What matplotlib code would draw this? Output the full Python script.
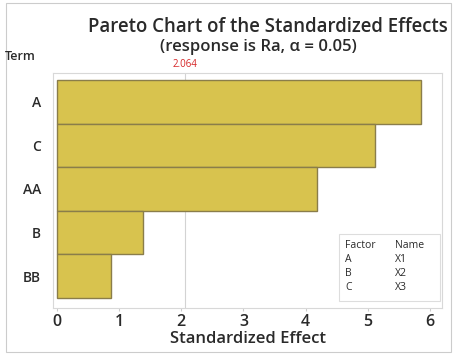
import matplotlib
matplotlib.use("Agg")
import matplotlib.pyplot as plt
from matplotlib.patches import Rectangle

terms = ["A", "C", "AA", "B", "BB"]
effects = [5.85, 5.11, 4.18, 1.38, 0.87]
critical_value = 2.064
x_ticks = [0, 1, 2, 3, 4, 5, 6]
factors = ["A", "B", "C"]
names = ["X1", "X2", "X3"]

plt.rcParams["font.family"] = ["Open Sans", "DejaVu Sans"]
TXT = "#2a2a2a"

W, H = 457, 355
fig = plt.figure(figsize=(W / 100, H / 100), dpi=100)

# axes placed in pixel coordinates
left, right, top, bottom = 53, 442, 73, 308
ax = fig.add_axes([left / W, 1 - bottom / H, (right - left) / W, (bottom - top) / H])

ypos = list(range(len(terms)))
ax.barh(ypos, effects, height=1.0, color="#D8C34E", edgecolor="#8A7D4A", linewidth=1.0, zorder=2)
ax.axvline(critical_value, color="#d3d3d3", linewidth=0.8, zorder=1)

ax.set_xlim(-0.06, 6.19)
ax.set_ylim(len(terms) - 0.5 + 0.23, -0.5 - 0.16)
ax.set_xticks(x_ticks)
ax.set_xticklabels([str(t) for t in x_ticks], fontsize=11.5, color=TXT, fontweight="semibold")
ax.set_yticks(ypos)
ax.set_yticklabels(terms, fontsize=10, color=TXT, fontweight="semibold")
ax.tick_params(axis="x", length=2, color="#cccccc", pad=2)
ax.tick_params(axis="y", length=0, pad=8.5)
for s in ax.spines.values():
    s.set_color("#d8d8d8")
    s.set_linewidth(0.8)

ax.set_xlabel("Standardized Effect", fontsize=12, color=TXT, labelpad=1, fontweight="semibold")

# critical value label above the plot
ax.text(critical_value, -0.5 - 0.16 - 0.08, f"{critical_value:.3f}", color="#d62728",
        fontsize=7, ha="center", va="bottom")

fig.text(268 / W, 1 - 27 / H, "Pareto Chart of the Standardized Effects",
         fontsize=13.4, ha="center", va="center", color=TXT, fontweight="semibold")
fig.text(258 / W, 1 - 47 / H, "(response is Ra, \u03b1 = 0.05)",
         fontsize=12, ha="center", va="center", color=TXT, fontweight="semibold")
fig.text(5 / W, 1 - 56 / H, "Term", fontsize=9, ha="left", va="center", color=TXT,
         fontweight="semibold")

# factor table
lx0, ly0, lx1, ly1 = 339, 234, 440, 301
fig.patches.append(Rectangle((lx0 / W, 1 - ly1 / H), (lx1 - lx0) / W, (ly1 - ly0) / H,
                             transform=fig.transFigure, facecolor="white",
                             edgecolor="#dddddd", linewidth=0.8))
rows = [("Factor", "Name")] + list(zip(factors, names))
for i, (f, n) in enumerate(rows):
    yy = 1 - (245 + i * 14) / H
    fig.text(345 / W, yy, f, fontsize=7.5, va="center", ha="left", color=TXT)
    fig.text(395 / W, yy, n, fontsize=7.5, va="center", ha="left", color=TXT)

# outer border
fig.patches.append(Rectangle((6 / W, 3 / H), (451 - 6) / W, (352 - 3) / H,
                             transform=fig.transFigure, facecolor="none",
                             edgecolor="#cccccc", linewidth=0.8))

fig.savefig("out.png", dpi=100)
